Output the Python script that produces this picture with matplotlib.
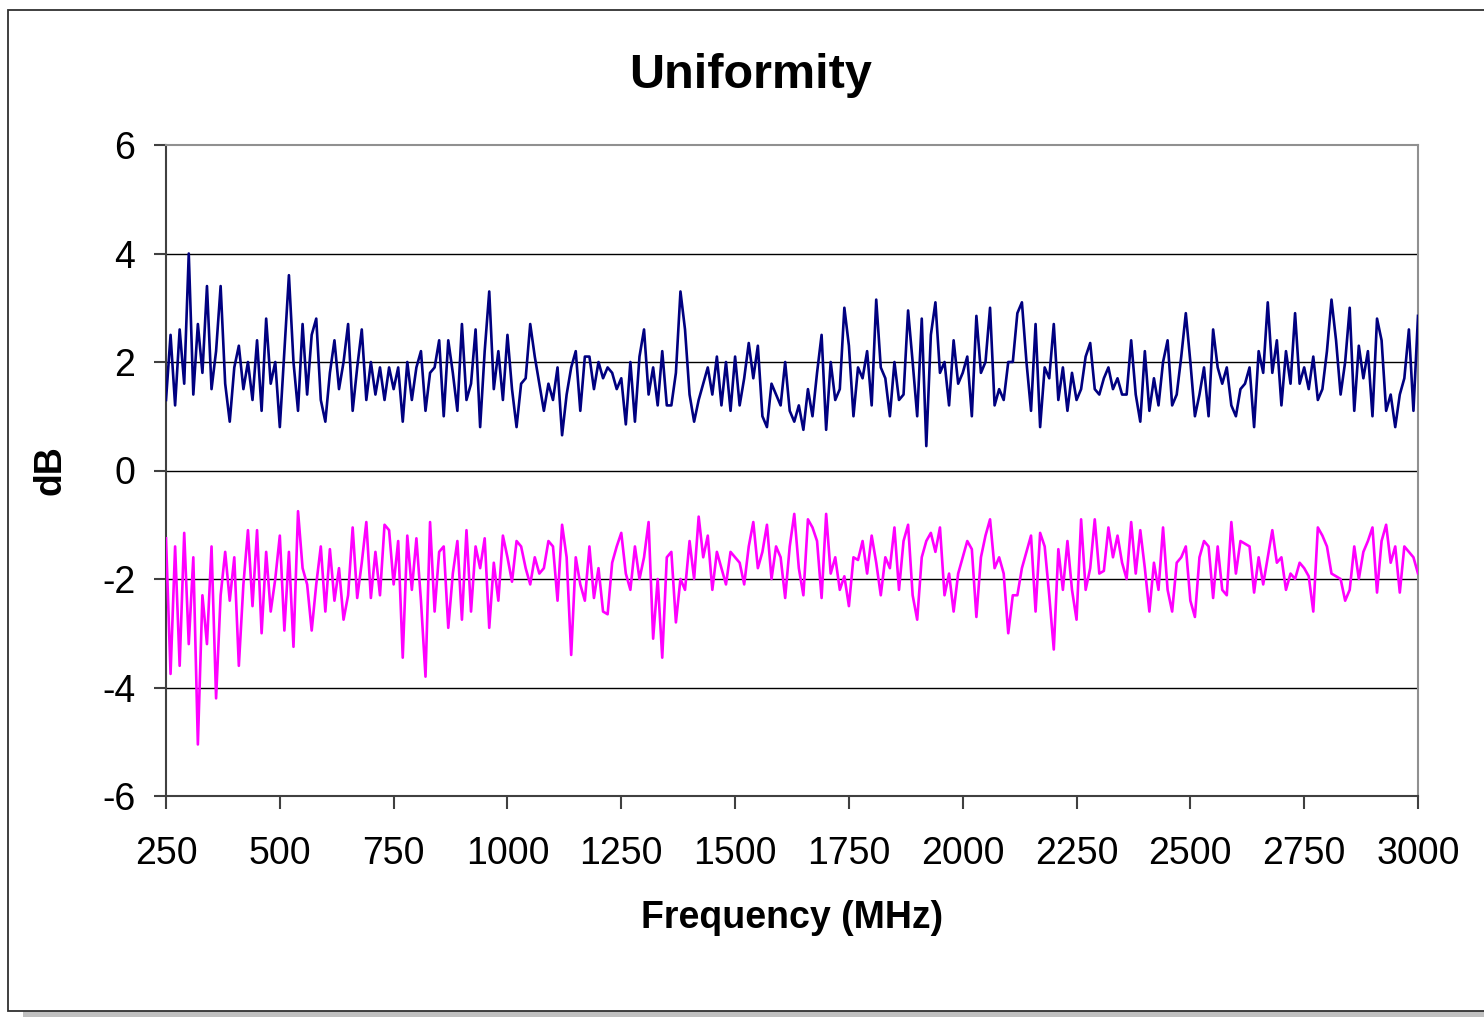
import matplotlib
matplotlib.use("Agg")
import matplotlib.pyplot as plt
from matplotlib.patches import Rectangle
import numpy as np

plt.rcParams['font.family'] = ['Liberation Sans', 'DejaVu Sans']

# frequency grid (MHz), one reading every 10 MHz
freq_start = 250
freq_step = 10

# upper trace (dB), rows of 10 starting at 250, 350, ...
upper = [
    1.3, 2.5, 1.2, 2.6, 1.6, 4.0, 1.4, 2.7, 1.8, 3.4,
    1.5, 2.2, 3.4, 1.6, 0.9, 1.9, 2.3, 1.5, 2.0, 1.3,
    2.4, 1.1, 2.8, 1.6, 2.0, 0.8, 2.2, 3.6, 2.0, 1.1,
    2.7, 1.4, 2.5, 2.8, 1.3, 0.9, 1.8, 2.4, 1.5, 2.0,
    2.7, 1.1, 1.9, 2.6, 1.3, 2.0, 1.4, 1.9, 1.3, 1.9,
    1.5, 1.9, 0.9, 2.0, 1.3, 1.9, 2.2, 1.1, 1.8, 1.9,
    2.4, 1.0, 2.4, 1.8, 1.1, 2.7, 1.3, 1.6, 2.6, 0.8,
    2.2, 3.3, 1.5, 2.2, 1.3, 2.5, 1.5, 0.8, 1.6, 1.7,
    2.7, 2.1, 1.6, 1.1, 1.6, 1.3, 1.9, 0.65, 1.4, 1.9,
    2.2, 1.1, 2.1, 2.1, 1.5, 2.0, 1.7, 1.9, 1.8, 1.5,
    1.7, 0.85, 2.0, 0.9, 2.1, 2.6, 1.4, 1.9, 1.2, 2.2,
    1.2, 1.2, 1.8, 3.3, 2.6, 1.4, 0.9, 1.3, 1.6, 1.9,
    1.4, 2.1, 1.2, 2.0, 1.1, 2.1, 1.2, 1.7, 2.35, 1.7,
    2.3, 1.0, 0.8, 1.6, 1.4, 1.2, 2.0, 1.1, 0.9, 1.2,
    0.75, 1.5, 1.0, 1.8, 2.5, 0.75, 2.0, 1.3, 1.5, 3.0,
    2.3, 1.0, 1.9, 1.7, 2.2, 1.2, 3.15, 1.9, 1.7, 1.0,
    2.0, 1.3, 1.4, 2.95, 2.0, 1.0, 2.8, 0.45, 2.5, 3.1,
    1.8, 2.0, 1.2, 2.4, 1.6, 1.8, 2.1, 1.0, 2.85, 1.8,
    2.0, 3.0, 1.2, 1.5, 1.3, 2.0, 2.0, 2.9, 3.1, 2.0,
    1.1, 2.7, 0.8, 1.9, 1.7, 2.7, 1.3, 1.9, 1.1, 1.8,
    1.3, 1.5, 2.1, 2.35, 1.5, 1.4, 1.7, 1.9, 1.5, 1.7,
    1.4, 1.4, 2.4, 1.4, 0.9, 2.2, 1.1, 1.7, 1.2, 2.0,
    2.4, 1.2, 1.4, 2.1, 2.9, 2.0, 1.0, 1.4, 1.9, 1.0,
    2.6, 1.9, 1.6, 1.9, 1.2, 1.0, 1.5, 1.6, 1.9, 0.8,
    2.2, 1.8, 3.1, 1.8, 2.4, 1.2, 2.2, 1.6, 2.9, 1.6,
    1.9, 1.5, 2.1, 1.3, 1.5, 2.2, 3.15, 2.4, 1.4, 2.0,
    3.0, 1.1, 2.3, 1.7, 2.2, 1.0, 2.8, 2.4, 1.1, 1.4,
    0.8, 1.4, 1.7, 2.6, 1.1, 2.85,
]

# lower trace (dB)
lower = [
    -1.25, -3.75, -1.4, -3.6, -1.15, -3.2, -1.6, -5.05, -2.3, -3.2,
    -1.4, -4.2, -2.3, -1.5, -2.4, -1.6, -3.6, -2.1, -1.1, -2.5,
    -1.1, -3.0, -1.5, -2.6, -2.0, -1.2, -2.95, -1.5, -3.25, -0.75,
    -1.8, -2.1, -2.95, -2.1, -1.4, -2.6, -1.45, -2.4, -1.8, -2.75,
    -2.3, -1.05, -2.35, -1.7, -0.95, -2.35, -1.5, -2.3, -1.0, -1.1,
    -2.1, -1.3, -3.45, -1.2, -2.2, -1.25, -2.4, -3.8, -0.95, -2.6,
    -1.5, -1.4, -2.9, -1.9, -1.3, -2.75, -1.1, -2.6, -1.4, -1.8,
    -1.25, -2.9, -1.7, -2.4, -1.2, -1.6, -2.05, -1.3, -1.4, -1.8,
    -2.1, -1.6, -1.9, -1.8, -1.3, -1.4, -2.4, -1.0, -1.6, -3.4,
    -1.6, -2.1, -2.4, -1.4, -2.35, -1.8, -2.6, -2.65, -1.7, -1.4,
    -1.15, -1.9, -2.2, -1.4, -2.0, -1.6, -0.95, -3.1, -2.0, -3.45,
    -1.6, -1.5, -2.8, -2.0, -2.2, -1.3, -2.0, -0.85, -1.6, -1.2,
    -2.2, -1.5, -1.8, -2.1, -1.5, -1.6, -1.7, -2.1, -1.4, -0.95,
    -1.8, -1.5, -1.0, -2.0, -1.4, -1.6, -2.35, -1.4, -0.8, -1.8,
    -2.3, -0.9, -1.05, -1.3, -2.35, -0.8, -1.9, -1.6, -2.2, -1.95,
    -2.5, -1.6, -1.65, -1.3, -1.9, -1.2, -1.7, -2.3, -1.6, -1.8,
    -1.05, -2.2, -1.3, -1.0, -2.3, -2.75, -1.6, -1.3, -1.15, -1.5,
    -1.05, -2.3, -1.9, -2.6, -1.9, -1.6, -1.3, -1.45, -2.7, -1.6,
    -1.2, -0.9, -1.8, -1.6, -1.9, -3.0, -2.3, -2.3, -1.8, -1.5,
    -1.2, -2.6, -1.15, -1.4, -2.3, -3.3, -1.45, -2.2, -1.3, -2.2,
    -2.75, -0.9, -2.2, -1.8, -0.9, -1.9, -1.85, -1.05, -1.6, -1.2,
    -1.7, -2.0, -0.95, -1.9, -1.1, -1.8, -2.6, -1.7, -2.2, -1.05,
    -2.2, -2.6, -1.7, -1.6, -1.4, -2.4, -2.7, -1.6, -1.3, -1.4,
    -2.35, -1.4, -2.2, -2.3, -0.95, -1.9, -1.3, -1.35, -1.4, -2.25,
    -1.6, -2.1, -1.6, -1.1, -1.7, -1.6, -2.2, -1.9, -2.0, -1.7,
    -1.8, -1.95, -2.6, -1.05, -1.2, -1.4, -1.9, -1.95, -2.0, -2.4,
    -2.2, -1.4, -2.0, -1.5, -1.3, -1.05, -2.25, -1.3, -1.0, -1.7,
    -1.4, -2.25, -1.4, -1.5, -1.6, -1.9,
]

xticks = [250, 500, 750, 1000, 1250, 1500, 1750, 2000, 2250, 2500, 2750, 3000]
yticks = [-6, -4, -2, 0, 2, 4, 6]

freq_up = freq_start + freq_step * np.arange(len(upper))
freq_lo = freq_start + freq_step * np.arange(len(lower))

W, H = 1484, 1017
fig = plt.figure(figsize=(W / 100, H / 100), dpi=100)
fig.patch.set_facecolor('white')

# chart border + shadow
fig.patches.append(Rectangle((23 / W, 0), 1.0, 6 / H, transform=fig.transFigure,
                             facecolor='#c0c0c0', edgecolor='none', zorder=0))
fig.patches.append(Rectangle((8 / W, 1 - 1011 / H), 1.0, 1001 / H, transform=fig.transFigure,
                             facecolor='white', edgecolor='#303030', linewidth=1.3, zorder=1))

ax = fig.add_axes([166 / W, 1 - 796 / H, (1418 - 166) / W, (796 - 145) / H])
ax.set_zorder(2)

ax.plot(freq_up, upper, color='#000080', linewidth=1.9, zorder=3)
ax.plot(freq_lo, lower, color='#ff00ff', linewidth=1.9, zorder=3)

ax.set_xlim(250, 3000)
ax.set_ylim(-6, 6)
ax.set_xticks(xticks)
ax.set_yticks(yticks)
ax.set_yticklabels([str(v) for v in yticks])
ax.tick_params(labelsize=27, length=9, width=1.5, color='#404040', direction='out')
ax.tick_params(axis='y', pad=13)
ax.tick_params(axis='x', pad=20)

for v in yticks[1:-1]:
    ax.axhline(v, color='black', linewidth=1.0, zorder=1)

for side in ['top', 'right']:
    ax.spines[side].set_color('#909090')
    ax.spines[side].set_linewidth(1.5)
for side in ['left', 'bottom']:
    ax.spines[side].set_color('#404040')
    ax.spines[side].set_linewidth(1.5)

ax.set_xlabel('Frequency (MHz)', fontsize=27, fontweight='bold', labelpad=20)
ax.set_ylabel('dB', fontsize=27, fontweight='bold', labelpad=24)
fig.text(751 / W, 1 - 75 / H, 'Uniformity', fontsize=35, fontweight='bold',
         ha='center', va='center')

fig.savefig('out.png', dpi=100, facecolor='white')
